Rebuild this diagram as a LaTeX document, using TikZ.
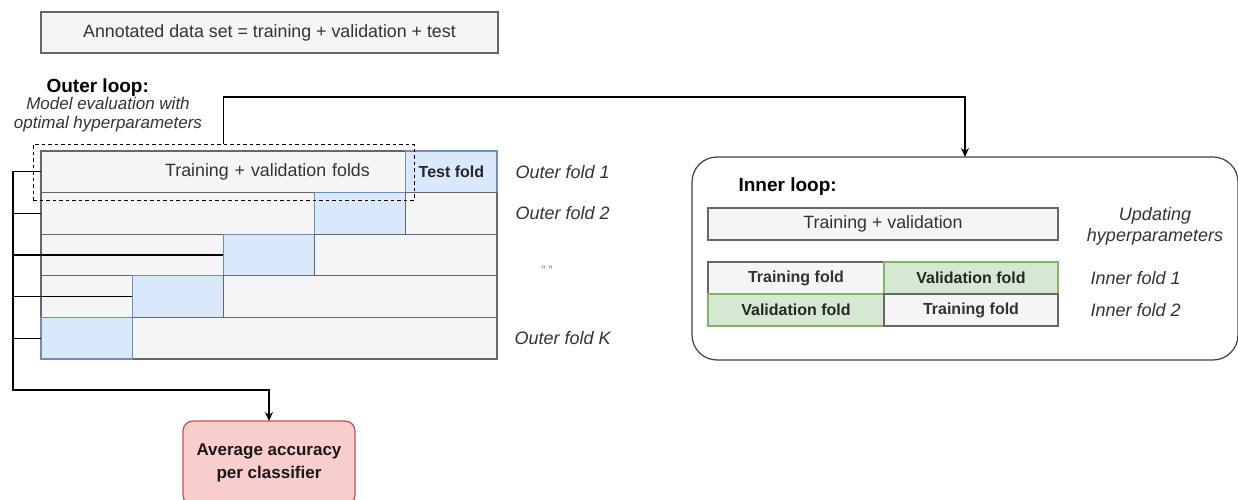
\documentclass[tikz,border=0pt]{standalone}
\usepackage{fontspec}
\setmainfont{Liberation Sans}
\usetikzlibrary{arrows.meta,positioning}

\definecolor{cellgray}{HTML}{F5F5F5}
\definecolor{linegray}{HTML}{666666}
\definecolor{foldblue}{HTML}{DAE8FC}
\definecolor{lineblue}{HTML}{6C8EBF}
\definecolor{foldgreen}{HTML}{D5E8D4}
\definecolor{linegreen}{HTML}{82B366}
\definecolor{accred}{HTML}{F8CECC}
\definecolor{linered}{HTML}{B85450}
\definecolor{txtgray}{HTML}{333333}

\tikzset{
  base/.style={font=\fontsize{17.8}{20}\selectfont, text=txtgray},
  note/.style={font=\itshape\fontsize{18}{21}\selectfont, text=txtgray},
  title/.style={font=\bfseries\fontsize{19}{22}\selectfont, text=black, anchor=west},
  cell/.style={base, draw=linegray, fill=cellgray, line width=1.3pt, anchor=north west,
    outer sep=0pt, inner sep=0pt, minimum height=41.6pt, minimum width=91.2pt},
  testcell/.style={cell, draw=lineblue, fill=foldblue},
  boldcell/.style={cell, minimum height=32pt, font=\bfseries\fontsize{16}{19}\selectfont},
  valcell/.style={boldcell, draw=linegreen, fill=foldgreen, text=black!85},
  link/.style={draw=black, line width=1.3pt},
  tip/.style={-{Stealth[length=9pt,width=8pt]}}
}

\begin{document}
\begin{tikzpicture}[x=1pt,y=-1pt]
  \useasboundingbox (0,0) rectangle (1238,500);

  % Data set
  \node[cell, minimum width=457, minimum height=41] (dataset) at (41,12) {Annotated data set = training + validation + test};

  % Outer loop
  \node[title] (outertitle) at (43,88) {Outer loop:};
  \node[note, font=\itshape\fontsize{17}{19}\selectfont, align=center] (evalnote) at (108,115) {Model evaluation with\\optimal hyperparameters};

  % Outer folds
  \node[cell, minimum width=364.8, text width=292.8, inner xsep=36pt, align=right] (r1a) at (41,151) {Training + validation folds};
  \node[testcell, text=black!85, font=\bfseries\fontsize{16}{19}\selectfont] (r1t) at (405.8,151) {Test fold};

  \node[cell, minimum width=273.6] (r2a) at (41,192.6) {};
  \node[testcell] (r2t) at (314.6,192.6) {};
  \node[cell] (r2b) at (405.8,192.6) {};

  \node[cell, minimum width=182.4] (r3a) at (41,234.2) {};
  \node[testcell] (r3t) at (223.4,234.2) {};
  \node[cell, minimum width=182.4] (r3b) at (314.6,234.2) {};

  \node[cell] (r4a) at (41,275.8) {};
  \node[testcell] (r4t) at (132.2,275.8) {};
  \node[cell, minimum width=273.6] (r4b) at (223.4,275.8) {};

  \node[cell, minimum width=364.8] (r5b) at (132.2,317.4) {};
  \node[testcell] (r5t) at (41,317.4) {};

  \node[note, anchor=west, right=15pt of r1t] (of1) {Outer fold 1};
  \node[note, anchor=west, right=15pt of r2b] (of2) {Outer fold 2};
  \node[base, font=\fontsize{12}{14}\selectfont, text=gray] (ofdots) at (547,270) {" "};
  \node[note, anchor=west, right=14pt of r5b] (ofk) {Outer fold K};

  % Current outer fold
  \node[draw=black, dash pattern=on 3.5pt off 3pt, line width=1pt, anchor=north west,
    minimum width=381, minimum height=56, inner sep=0pt, outer sep=0pt] (focus) at (33,144) {};

  % Inner loop
  \node[draw=black!75, line width=1.2pt, rounded corners=25pt, anchor=north west,
    minimum width=546, minimum height=203, inner sep=0pt, outer sep=0pt] (inner) at (692,157) {};
  \node[title] (innertitle) at (735,187) {Inner loop:};
  \node[cell, minimum width=350, minimum height=32] (tv) at (708,208) {Training + validation};
  \node[note, align=center] (update) at (1155,226) {Updating\\hyperparameters};

  \node[boldcell, minimum width=176] (in1a) at (708,262) {Training fold};
  \node[valcell, minimum width=174] (in1b) at (884,262) {Validation fold};
  \node[valcell, minimum width=176] (in2a) at (708,294) {Validation fold};
  \node[boldcell, minimum width=174] (in2b) at (884,294) {Training fold};

  \node[note, anchor=west, right=29pt of in1b] (if1) {Inner fold 1};
  \node[note, anchor=west, right=29pt of in2b] (if2) {Inner fold 2};

  % Result
  \node[draw=linered, fill=accred, line width=1.2pt, rounded corners=10pt, anchor=north west,
    minimum width=172, minimum height=84, inner sep=0pt, outer sep=0pt, align=center,
    font=\bfseries\fontsize{17}{23}\selectfont, text=black!90] (accbox) at (183,421) {Average accuracy\\per classifier};

  % Connectors
  \coordinate (corner) at (13,390);
  \draw[link, tip] (r1a.west) -| (corner) -| (accbox.north);
  \draw[link] (corner |- r2a.west) -- (r2a.west);
  \draw[link] (corner |- r3t.west) -- (r3t.west);
  \draw[link] (corner |- r4t.west) -- (r4t.west);
  \draw[link] (corner |- r5t.west) -- (r5t.west);
  \draw[link, tip] (focus.north -| r3t.west) -- ++(0,-47) -| (inner.north);
\end{tikzpicture}
\end{document}
